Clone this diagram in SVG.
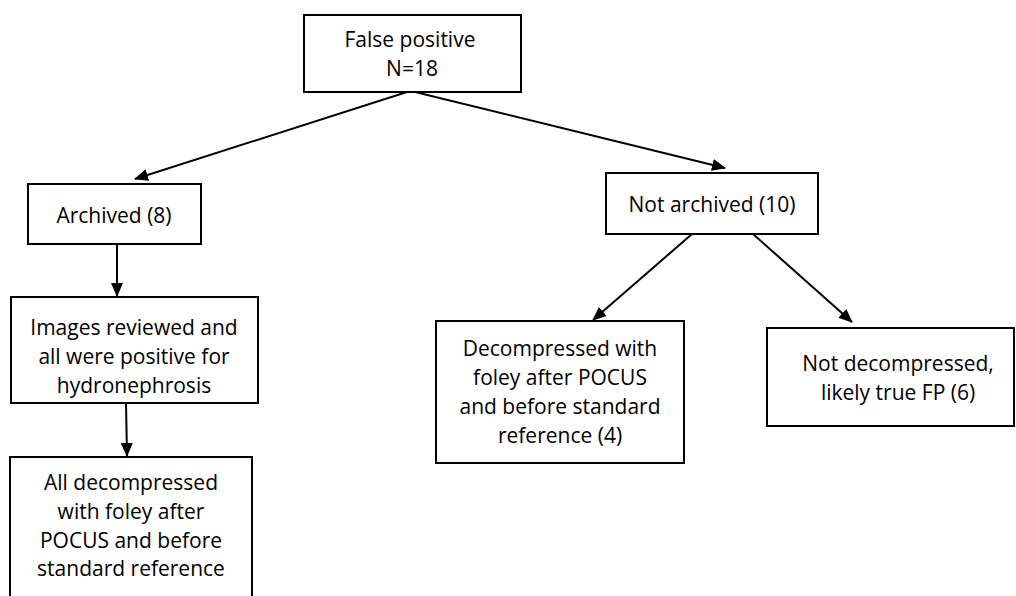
<svg xmlns="http://www.w3.org/2000/svg" width="1016" height="596" viewBox="0 0 1016 596">
<style>
.box{fill:#fff;stroke:#000;stroke-width:2}
.t{font-family:"Open Sans","Liberation Sans",sans-serif;font-size:21px;fill:#000;text-anchor:middle}
.c{stroke:#000;stroke-width:2;fill:none;marker-end:url(#ah)}
</style>
<defs>
<marker id="ah" markerUnits="userSpaceOnUse" markerWidth="14" markerHeight="12" refX="13" refY="6" orient="auto">
<path d="M0,0 L14,6 L0,12 z" fill="#000"/>
</marker>
</defs>
<rect width="1016" height="596" fill="#fff"/>
<g id="connectors">
<line class="c" x1="407" y1="92" x2="135" y2="179"/>
<line class="c" x1="415" y1="92" x2="725" y2="168"/>
<line class="c" x1="117" y1="244" x2="117" y2="296"/>
<line class="c" x1="126" y1="403" x2="127" y2="456"/>
<line class="c" x1="692" y1="234" x2="593" y2="320"/>
<line class="c" x1="753" y1="234" x2="852" y2="322"/>
</g>
<g id="n-false-positive">
<rect class="box" x="304" y="15" width="217" height="77"/>
<text class="t" x="410" y="47">False positive</text>
<text class="t" x="412" y="76">N=18</text>
</g>
<g id="n-archived">
<rect class="box" x="28" y="184" width="173" height="60"/>
<text class="t" x="114" y="223">Archived (8)</text>
</g>
<g id="n-not-archived">
<rect class="box" x="606" y="173" width="212" height="61"/>
<text class="t" x="712" y="212">Not archived (10)</text>
</g>
<g id="n-images">
<rect class="box" x="11" y="297" width="247" height="106"/>
<text class="t" x="134" y="335">Images reviewed and</text>
<text class="t" x="134" y="364">all were positive for</text>
<text class="t" x="134" y="393">hydronephrosis</text>
</g>
<g id="n-all-decompressed">
<rect class="box" x="10" y="457" width="242" height="160"/>
<text class="t" x="131" y="490">All decompressed</text>
<text class="t" x="131" y="519">with foley after</text>
<text class="t" x="131" y="548">POCUS and before</text>
<text class="t" x="131" y="576">standard reference</text>
</g>
<g id="n-decompressed">
<rect class="box" x="436" y="321" width="248" height="142"/>
<text class="t" x="560" y="356">Decompressed with</text>
<text class="t" x="560" y="385">foley after POCUS</text>
<text class="t" x="560" y="414">and before standard</text>
<text class="t" x="560" y="443">reference (4)</text>
</g>
<g id="n-not-decompressed">
<rect class="box" x="767" y="328" width="247" height="98"/>
<text class="t" x="898" y="371">Not decompressed,</text>
<text class="t" x="898" y="400">likely true FP (6)</text>
</g>
</svg>
